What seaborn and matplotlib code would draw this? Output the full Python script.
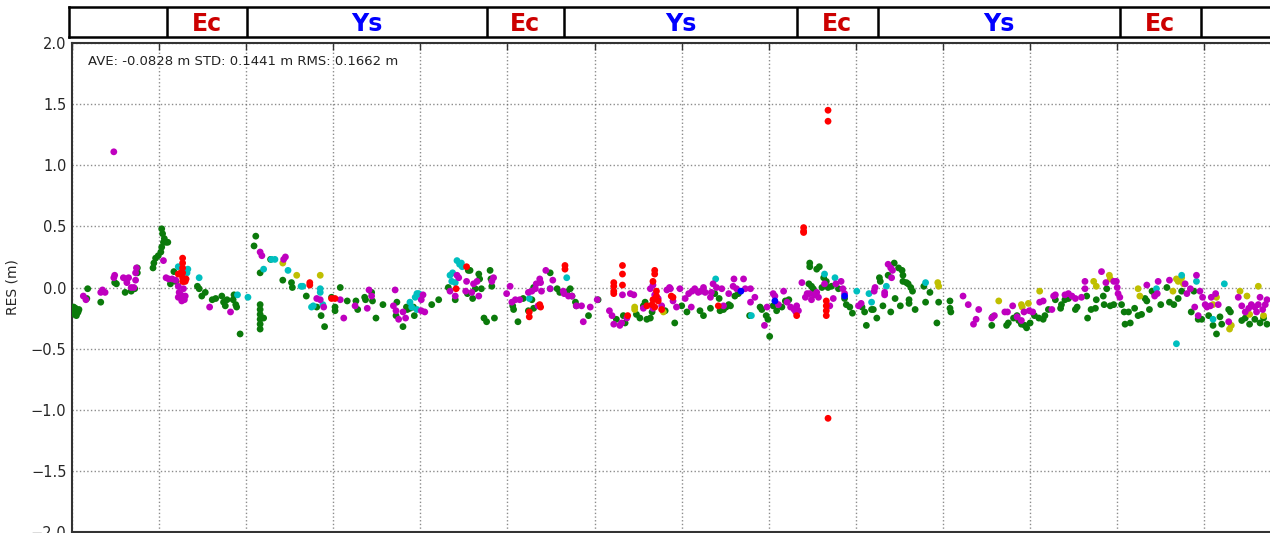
import numpy as np
import pandas as pd
import matplotlib
matplotlib.use("Agg")
import matplotlib.pyplot as plt
import seaborn as sns

# ---------------- data (x in grid-tick units, y in metres) ----------------
green_x = [0.01, 0.02, 0.03, 0.04, 0.05, 0.06, 0.07, 0.08, 0.02, 0.05,
           0.17, 0.18, 0.33, 0.49, 0.51, 0.61, 0.68, 0.72, 0.75, 0.75,
           0.93, 0.94, 0.96, 0.99, 1.02, 1.03, 1.05, 1.08, 1.03, 1.04, 1.06, 1.10,
           1.13, 1.17, 1.19,
           1.44, 1.46, 1.49, 1.53, 1.61, 1.65, 1.72, 1.74, 1.76, 1.78, 1.85, 1.86, 1.88, 1.89, 1.93,
           2.09, 2.11, 2.16, 2.16, 2.16, 2.16, 2.16, 2.16, 2.16, 2.20, 2.28,
           2.42, 2.52, 2.53, 2.69, 2.81, 2.86, 2.90, 2.98, 3.02, 3.02, 3.08, 3.16, 3.26, 3.28,
           3.36, 3.37, 3.44, 3.45, 3.49, 3.57, 3.73, 3.72, 3.80, 3.84, 3.85, 3.88, 3.92, 3.93,
           4.13, 4.21, 4.32, 4.40, 4.55, 4.54,
           4.57, 4.67, 4.68, 4.70, 4.60, 4.63, 4.80, 4.81, 4.82, 4.73, 4.76, 4.85,
           5.06, 5.07, 5.12, 5.18, 5.24, 5.30, 5.28, 5.30, 5.49, 5.57, 5.60, 5.68, 5.72, 5.74,
           5.78, 5.79, 5.93, 6.04, 6.25, 6.33, 6.35, 6.48, 6.52, 6.56, 6.60, 6.64, 6.66, 6.58, 6.81,
           6.92, 7.00, 7.06, 7.21, 7.25, 7.33, 7.38, 7.43, 7.44, 7.48, 7.51, 7.54, 7.56, 7.61, 7.65,
           7.78, 7.90, 7.92, 7.97, 7.99, 8.01, 8.05, 8.09, 8.15, 8.19, 8.23, 8.32,
           8.47, 8.47, 8.46, 8.49, 8.51, 8.55, 8.58, 8.61, 8.63, 8.66, 8.68, 8.72, 8.80,
           8.87, 8.89, 8.93, 8.96, 9.07, 9.10, 9.12,
           9.18, 9.20, 9.24, 9.27, 9.28, 9.31, 9.37, 9.40, 9.44, 9.45, 9.49, 9.51, 9.53, 9.54,
           9.54, 9.58, 9.60, 9.61, 9.61, 9.63, 9.65, 9.68, 9.78, 9.80, 9.85, 9.93, 9.95,
           10.08, 10.08, 10.09, 10.56, 10.57, 10.73, 10.75, 10.81, 10.85, 10.87, 10.90, 10.94,
           10.96, 11.00, 11.05, 11.10, 11.15, 11.17, 11.21, 11.29, 11.35, 11.36, 11.40, 11.44,
           11.52, 11.54, 11.65, 11.66, 11.70, 11.75, 11.76, 11.84, 11.85, 11.88, 11.92, 11.96,
           12.05, 12.08, 12.09, 12.13, 12.15, 12.20, 12.24, 12.28, 12.32, 12.34, 12.37, 12.40,
           12.43, 12.50, 12.57, 12.60, 12.65, 12.70, 12.74, 12.85, 12.88, 12.93, 12.97, 13.05,
           13.10, 13.14, 13.18, 13.20, 13.28, 13.30, 13.43, 13.47, 13.52, 13.58, 13.64, 13.68, 13.72]
green_y = [-0.18, -0.20, -0.22, -0.17, -0.19, -0.21, -0.20, -0.18, -0.16, -0.23,
           -0.09, -0.01, -0.12, 0.04, 0.03, -0.04, -0.03, -0.01, 0.12, 0.16,
           0.16, 0.20, 0.24, 0.26, 0.29, 0.33, 0.37, 0.37, 0.48, 0.44, 0.40, 0.37,
           0.03, 0.13, 0.05,
           0.01, -0.01, -0.07, -0.04, -0.10, -0.09, -0.07, -0.12, -0.15, -0.10, -0.10, -0.06, -0.14, -0.16, -0.38,
           0.34, 0.42, 0.12, -0.14, -0.18, -0.22, -0.26, -0.30, -0.34, -0.25, 0.23,
           0.06, 0.04, 0.00, -0.07, -0.16, -0.23, -0.32, -0.08, -0.16, -0.19, 0.00, -0.11, -0.11, -0.18,
           -0.08, -0.10, -0.04, -0.11, -0.25, -0.14, -0.12, -0.23, -0.32, -0.16, -0.18, -0.17, -0.16, -0.23,
           -0.14, -0.10, 0.00, -0.10, 0.14, -0.05,
           0.14, 0.11, 0.07, -0.01, -0.09, -0.01, 0.14, 0.07, 0.01, -0.25, -0.28, -0.25,
           -0.15, -0.18, -0.28, -0.09, -0.19, 0.00, -0.10, -0.17, 0.12, -0.01, -0.04, -0.04, -0.01, -0.07,
           -0.12, -0.15, -0.23, -0.10, -0.26, -0.23, -0.29, -0.22, -0.25, -0.15, -0.26, -0.25, -0.20, -0.12, -0.19,
           -0.29, -0.15, -0.20, -0.19, -0.23, -0.17, -0.05, -0.09, -0.19, -0.18, -0.16, -0.14, -0.15, -0.07, -0.05,
           -0.23, -0.16, -0.18, -0.23, -0.26, -0.40, -0.15, -0.19, -0.16, -0.11, -0.10, -0.18,
           0.20, 0.17, 0.03, 0.01, -0.01, 0.15, 0.17, 0.00, 0.08, 0.05, 0.00, 0.01, -0.01,
           -0.09, -0.14, -0.16, -0.21, -0.16, -0.20, -0.31,
           -0.18, -0.18, -0.25, 0.08, 0.05, -0.15, 0.10, -0.20, 0.20, -0.09, 0.16, -0.15, 0.14, 0.10,
           0.05, 0.04, 0.03, -0.10, -0.13, 0.00, -0.03, -0.18, 0.01, -0.12, -0.04, -0.29, -0.12,
           -0.11, -0.17, -0.20, -0.31, -0.24, -0.31, -0.29, -0.25, -0.23, -0.27, -0.30, -0.31,
           -0.33, -0.29, -0.23, -0.25, -0.26, -0.23, -0.18, -0.10, -0.17, -0.14, -0.10, -0.09,
           -0.18, -0.16, -0.07, -0.25, -0.18, -0.17, -0.10, -0.07, -0.14, -0.01, -0.15, -0.14,
           -0.14, -0.20, -0.30, -0.20, -0.29, -0.17, -0.23, -0.22, -0.09, -0.11, -0.18, -0.03,
           -0.05, -0.14, 0.00, -0.12, -0.14, -0.09, -0.03, -0.20, -0.03, -0.26, -0.26, -0.23,
           -0.31, -0.38, -0.24, -0.30, -0.18, -0.20, -0.27, -0.25, -0.30, -0.26, -0.29, -0.25, -0.30]

magenta_x = [0.48, 0.13, 0.16, 0.33, 0.35, 0.38, 0.48, 0.49, 0.59, 0.62, 0.65, 0.63, 0.68, 0.71,
             0.73, 0.74, 0.73,
             1.05, 1.08, 1.11, 1.15, 1.19, 1.22, 1.23, 1.25, 1.26, 1.28, 1.30, 1.22, 1.26, 1.29,
             1.58, 1.82, 2.16, 2.18,
             2.45, 2.43, 2.81, 2.85, 2.89, 3.08, 3.12, 3.25, 3.39, 3.41, 3.44, 3.71, 3.69, 3.72,
             3.75, 3.80, 3.83, 4.01, 4.03, 4.01, 4.05, 4.34, 4.40, 4.42, 4.44, 4.52, 4.53,
             4.59, 4.61, 4.65, 4.67, 4.82, 4.84, 4.99, 5.03, 5.05, 5.09, 5.14, 5.24, 5.28, 5.32,
             5.33, 5.37, 5.38, 5.39, 5.35, 5.44, 5.52, 5.49, 5.64, 5.65, 5.70, 5.74, 5.79, 5.85,
             5.87, 5.95, 6.03, 6.17, 6.20, 6.22, 6.29, 6.31, 6.37, 6.32, 6.41, 6.45, 6.56, 6.64,
             6.67, 6.69, 6.73, 6.77, 6.83, 6.86, 6.67,
             6.87, 6.90, 6.94, 6.98, 7.04, 7.08, 7.12, 7.11, 7.15, 7.19, 7.22, 7.25, 7.27, 7.33,
             7.34, 7.36, 7.40, 7.46, 7.48, 7.54, 7.59, 7.60, 7.63, 7.71, 7.73, 7.79, 7.79, 7.84,
             7.95, 7.98, 8.05, 8.07, 8.11, 8.17, 8.21, 8.25, 8.29, 8.31, 8.32, 8.34, 8.38, 8.42,
             8.44, 8.47, 8.49, 8.52, 8.55, 8.57, 8.64, 8.70, 8.74, 8.77, 8.83, 8.85, 8.87, 9.03, 9.06,
             9.21, 9.22, 9.33, 9.33, 9.37, 9.40, 9.42, 9.41, 10.23, 10.29, 10.41, 10.35, 10.38,
             10.56, 10.59, 10.71, 10.74, 10.80, 10.85, 10.90, 10.93, 10.99, 11.03, 11.11, 11.15,
             11.25, 11.27, 11.29, 11.40, 11.44,
             11.48, 11.52, 11.59, 11.63, 11.63, 11.82, 11.87, 11.96, 11.99, 12.00, 12.01, 12.03,
             12.34, 12.43, 12.46, 12.47, 12.60, 12.78, 12.80, 12.84, 12.89, 12.91, 12.93, 12.95,
             12.98, 13.01, 13.03, 13.07, 13.08, 13.13, 13.16, 13.28, 13.39, 13.43, 13.47, 13.51,
             13.54, 13.58, 13.60, 13.62, 13.64, 13.67, 13.70, 13.72]
magenta_y = [1.11, -0.07, -0.10, -0.04, -0.02, -0.04, 0.08, 0.10, 0.08, 0.07, 0.08, 0.04, 0.00, 0.00,
             0.06, 0.16, 0.12,
             0.22, 0.08, 0.07, 0.07, 0.06, 0.01, -0.04, -0.06, -0.09, -0.01, -0.07, -0.08, -0.11, -0.10,
             -0.16, -0.20, 0.29, 0.26,
             0.25, 0.23, -0.09, -0.10, -0.16, -0.10, -0.25, -0.15, -0.17, -0.02, -0.07, -0.02, -0.15, -0.19,
             -0.26, -0.20, -0.25, -0.19, -0.06, -0.10, -0.20, -0.03, -0.07, 0.10, 0.08, -0.03, 0.05,
             -0.04, 0.03, 0.05, -0.07, 0.05, 0.08, -0.05, 0.01, -0.12, -0.10, -0.10, -0.04, -0.03, -0.01,
             0.03, 0.07, 0.04, -0.03, -0.15, 0.14, 0.06, -0.01, -0.03, -0.05, -0.07, -0.07, -0.15, -0.15,
             -0.28, -0.16, -0.10, -0.19, -0.23, -0.30, -0.31, -0.29, -0.25, -0.06, -0.05, -0.06, -0.17, -0.01,
             0.02, -0.06, -0.09, -0.15, -0.02, 0.00, -0.17,
             -0.01, -0.11, -0.16, -0.01, -0.09, -0.05, -0.03, -0.16, -0.01, -0.04, -0.03, 0.00, -0.04, -0.08,
             -0.04, 0.03, 0.00, -0.01, -0.15, -0.05, 0.01, 0.07, -0.01, 0.07, -0.01, -0.01, -0.12, -0.08,
             -0.31, -0.16, -0.05, -0.07, -0.14, -0.03, -0.12, -0.16, -0.18, -0.20, -0.15, -0.19, 0.04, -0.08,
             -0.05, -0.05, -0.10, -0.06, -0.04, -0.08, 0.03, -0.15, -0.09, 0.03, 0.05, -0.01, -0.05, -0.15, -0.13,
             -0.03, 0.00, -0.04, -0.06, 0.19, 0.16, 0.14, 0.08, -0.07, -0.14, -0.18, -0.30, -0.26,
             -0.25, -0.23, -0.20, -0.20, -0.15, -0.24, -0.27, -0.20, -0.19, -0.20, -0.12, -0.11,
             -0.18, -0.07, -0.06, -0.06, -0.05,
             -0.07, -0.09, -0.08, -0.01, 0.05, 0.13, 0.04, 0.05, 0.05, 0.00, -0.05, -0.08,
             0.02, -0.07, -0.05, 0.05, 0.06, 0.03, -0.05, -0.01, -0.16, 0.10, -0.23, -0.03,
             -0.08, -0.14, -0.16, -0.15, -0.08, -0.05, -0.14, -0.28, -0.08, -0.15, -0.20, -0.17,
             -0.14, -0.16, -0.20, -0.14, -0.08, -0.18, -0.14, -0.10]

cyan_x = [1.22, 1.33, 1.32, 1.46, 1.90, 2.02, 2.20,
          2.29, 2.33, 2.48, 2.63, 2.65, 2.77, 2.75, 2.85, 2.85, 2.88,
          3.88, 3.90, 3.94, 3.96, 3.98, 4.00, 3.96,
          4.34, 4.37, 4.40, 4.42, 4.45, 4.47, 4.48, 4.36,
          5.25, 5.68, 5.49,
          7.39, 7.25, 7.80, 8.64, 8.76, 9.01, 9.15,
          9.18, 9.35, 9.80,
          12.45, 12.74, 12.91, 13.10, 13.23, 12.68]
cyan_y = [0.17, 0.15, 0.12, 0.08, -0.06, -0.08, 0.15,
          0.23, 0.23, 0.14, 0.01, 0.01, -0.15, -0.16, -0.01, -0.04, -0.14,
          -0.12, -0.16, -0.08, -0.05, -0.05, -0.06, -0.18,
          0.10, 0.12, 0.04, 0.22, 0.19, 0.20, 0.17, 0.05,
          -0.09, 0.08, -0.01,
          0.07, -0.03, -0.23, 0.11, 0.08, -0.03, -0.05,
          -0.12, 0.01, 0.04,
          -0.01, 0.10, 0.05, -0.26, 0.03, -0.46]

yellow_x = [2.42, 2.58, 2.85, 6.46, 6.46, 6.79,
            9.94, 9.95, 10.64, 10.90, 10.91, 10.98, 11.11,
            11.73, 11.76, 11.91, 11.92, 12.24, 12.26, 12.64, 12.68, 12.70, 12.74, 12.76,
            13.10, 13.14, 13.29, 13.31, 13.41, 13.49, 13.52, 13.62, 13.68]
yellow_y = [0.20, 0.10, 0.10, -0.16, -0.18, -0.20,
            0.04, 0.01, -0.11, -0.14, -0.16, -0.13, -0.03,
            0.05, 0.01, 0.10, 0.07, -0.01, -0.07, -0.03, 0.07, 0.05, 0.08, 0.03,
            -0.14, -0.08, -0.34, -0.31, -0.03, -0.07, -0.22, 0.01, -0.23]

red_x = [1.27, 1.27, 1.27, 1.27, 1.27, 1.27, 1.22, 1.25, 1.28, 1.30, 1.31,
         2.73, 2.73, 2.98, 3.02, 4.41, 4.53,
         5.25, 5.25, 5.37, 5.38, 5.66, 5.66, 6.22, 6.22, 6.22, 6.22, 6.32, 6.32, 6.32, 6.38,
         6.60, 6.66, 6.67, 6.69, 6.69, 6.67, 6.71, 6.71, 6.73, 6.77, 6.69,
         6.88, 6.90, 7.42, 8.40, 8.40, 8.40, 8.32, 8.66, 8.66, 8.66, 8.66,
         8.68, 8.68, 8.68]
red_y = [0.24, 0.20, 0.16, 0.12, 0.08, 0.05, 0.11, 0.12, 0.05, 0.05, 0.07,
         0.04, 0.02, -0.09, -0.09, -0.01, 0.17,
         -0.20, -0.24, -0.14, -0.16, 0.18, 0.15, 0.04, 0.01, -0.03, -0.05, 0.18, 0.11, 0.02, -0.23,
         -0.15, -0.14, -0.10, 0.14, 0.11, 0.05, -0.03, -0.07, -0.11, -0.18, -0.16,
         -0.07, -0.08, -0.15, 0.49, 0.46, 0.45, -0.23, -0.11, -0.15, -0.19, -0.23,
         1.45, 1.36, -1.07]

blue_x = [7.68, 8.07, 8.87]
blue_y = [-0.03, -0.11, -0.07]

# top strip: attitude-mode segments
seg_edges = [1.09, 2.01, 4.76, 5.65, 8.32, 9.25, 12.03, 12.96]
seg_labels = ["Ec", "Ys", "Ec", "Ys", "Ec", "Ys", "Ec"]
stats_text = "AVE: -0.0828 m STD: 0.1441 m RMS: 0.1662 m"
y_ticks = [-2.0, -1.5, -1.0, -0.5, 0.0, 0.5, 1.0, 1.5, 2.0]

# ---------------- build frame ----------------
frames = []
for name, xs, ys in [("G", green_x, green_y), ("Y", yellow_x, yellow_y),
                     ("C", cyan_x, cyan_y), ("M", magenta_x, magenta_y),
                     ("R", red_x, red_y), ("B", blue_x, blue_y)]:
    frames.append(pd.DataFrame({"x": xs, "y": ys, "sys": name}))
df = pd.concat(frames, ignore_index=True)
palette = {"G": "#0b7a0b", "Y": "#bfbf00", "C": "#00bfbf",
           "M": "#bf00bf", "R": "#ff0000", "B": "#0000ff"}

sns.set_style("white")
plt.rcParams["font.family"] = ["DejaVu Sans"]

W, H = 1270, 533
fig = plt.figure(figsize=(W / 100, H / 100), dpi=100)

unit = 87.1  # px per x unit
x_left_px = 72
x_max = 14.0
ax = fig.add_axes([x_left_px / W, 1 / H, x_max * unit / W, (532 - 43) / H])

sns.scatterplot(data=df, x="x", y="y", hue="sys", palette=palette, s=24,
                linewidth=0, legend=False, ax=ax, zorder=3)

ax.set_xlim(0, x_max)
ax.set_ylim(-2.0, 2.0)
ax.set_xticks(np.arange(0, 15, 1))
ax.set_xticklabels([])
ax.set_yticks(y_ticks)
ax.set_yticklabels([f"{v:.1f}".replace("-", "\u2212") for v in y_ticks])
ax.set_xlabel("")
ax.set_ylabel("RES (m)", fontsize=10, labelpad=8)
ax.tick_params(axis="both", direction="in", length=5, width=1, color="#333333",
               top=True, right=True, labelsize=10.5, pad=4)
ax.grid(True, linestyle=":", color="#666666", linewidth=1.0, alpha=0.75)
for sp in ax.spines.values():
    sp.set_color("#333333")
    sp.set_linewidth(1.5)

ax.text(0.18, 1.845, stats_text, fontsize=9.5, va="center", ha="left", color="#222222")

# top strip
ax2 = fig.add_axes([69 / W, 1 - 37 / H, (x_max * unit + 3) / W, 30 / H])
ax2.set_xlim(-3 / unit, x_max)
ax2.set_ylim(0, 1)
ax2.set_xticks([])
ax2.set_yticks([])
for sp in ax2.spines.values():
    sp.set_color("black")
    sp.set_linewidth(1.8)
for e in seg_edges:
    ax2.axvline(e, color="black", linewidth=1.8)
for i, lab in enumerate(seg_labels):
    cx = 0.5 * (seg_edges[i] + seg_edges[i + 1])
    col = "#cc0000" if lab == "Ec" else "#0000ff"
    ax2.text(cx, 0.42, lab, color=col, fontsize=17, fontweight="bold",
             ha="center", va="center")

fig.savefig("out.png", dpi=100)
